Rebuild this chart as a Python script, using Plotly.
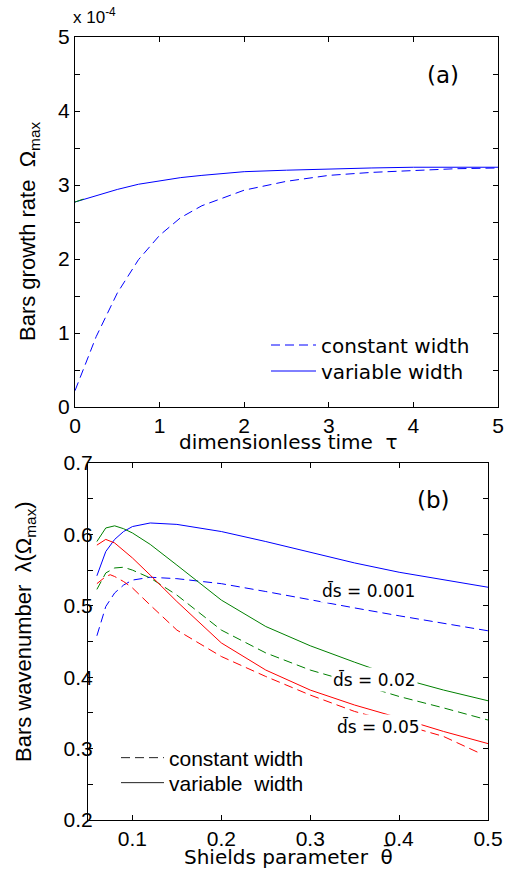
import plotly.graph_objects as go

# ---------- panel (a) data (growth rate, units of 1e-4) ----------
tau = [0, 0.25, 0.5, 0.75, 1.0, 1.25, 1.5, 2.0, 2.5, 3.0, 3.5, 4.0, 4.5, 5.0]
omega_const = [0.22, 0.95, 1.54, 1.99, 2.32, 2.56, 2.72, 2.93, 3.05, 3.13, 3.17, 3.20, 3.22, 3.23]
omega_var = [2.77, 2.86, 2.94, 3.01, 3.06, 3.10, 3.13, 3.18, 3.20, 3.22, 3.23, 3.24, 3.24, 3.24]
tau_green = [0, 0.1]
omega_green = [2.77, 2.81]

# ---------- panel (b) data (wavenumber vs Shields parameter) ----------
theta = [0.06, 0.07, 0.08, 0.09, 0.10, 0.12, 0.15, 0.20, 0.25, 0.30, 0.35, 0.40, 0.45, 0.50]
lam_var_001 = [0.542, 0.576, 0.593, 0.604, 0.611, 0.616, 0.614, 0.604, 0.590, 0.575, 0.560, 0.547, 0.536, 0.526]
lam_const_001 = [0.458, 0.499, 0.518, 0.529, 0.536, 0.540, 0.538, 0.531, 0.520, 0.508, 0.497, 0.486, 0.476, 0.465]
lam_var_002 = [0.590, 0.609, 0.612, 0.608, 0.602, 0.586, 0.557, 0.508, 0.471, 0.444, 0.421, 0.399, 0.382, 0.367]
lam_const_002 = [0.523, 0.546, 0.553, 0.554, 0.550, 0.539, 0.515, 0.466, 0.434, 0.410, 0.392, 0.373, 0.357, 0.340]
lam_var_005 = [0.585, 0.593, 0.588, 0.578, 0.567, 0.543, 0.506, 0.448, 0.410, 0.382, 0.361, 0.343, 0.324, 0.307]
theta_c005 = [0.06, 0.07, 0.075, 0.08, 0.09, 0.10, 0.12, 0.15, 0.20, 0.25, 0.30, 0.35, 0.40, 0.45, 0.49]
lam_const_005 = [0.531, 0.541, 0.5435, 0.541, 0.534, 0.525, 0.501, 0.466, 0.429, 0.401, 0.375, 0.352, 0.335, 0.317, 0.294]

ds_labels = ["d\u0304s = 0.001", "d\u0304s = 0.02", "d\u0304s = 0.05"]
ds_label_x = [0.366, 0.372, 0.377]
ds_label_y = [0.522, 0.397, 0.331]

W, H = 511, 869
BLUE, GREEN, RED = "#0000ff", "#008000", "#ff0000"
DASH = "9px,5px"
LEGC = "#222222"

fig = go.Figure()

# panel (a)
fig.add_trace(go.Scatter(x=tau, y=omega_const, mode="lines", name="constant width",
                         line=dict(color=BLUE, width=1, dash=DASH), xaxis="x", yaxis="y", legend="legend"))
fig.add_trace(go.Scatter(x=tau, y=omega_var, mode="lines", name="variable width",
                         line=dict(color=BLUE, width=1), xaxis="x", yaxis="y", legend="legend2"))
fig.add_trace(go.Scatter(x=tau_green, y=omega_green, mode="lines", showlegend=False,
                         line=dict(color=GREEN, width=1), xaxis="x", yaxis="y"))

# panel (b)
for xs, ys, col, dash in [
    (theta, lam_var_001, BLUE, None), (theta, lam_const_001, BLUE, DASH),
    (theta, lam_var_002, GREEN, None), (theta, lam_const_002, GREEN, DASH),
    (theta, lam_var_005, RED, None), (theta_c005, lam_const_005, RED, DASH),
]:
    fig.add_trace(go.Scatter(x=xs, y=ys, mode="lines", showlegend=False,
                             line=dict(color=col, width=1, dash=dash), xaxis="x2", yaxis="y2"))

# legend entries for panel (b) (line style key)
fig.add_trace(go.Scatter(x=[None], y=[None], mode="lines", name="constant width",
                         line=dict(color=LEGC, width=1, dash=DASH), xaxis="x2", yaxis="y2", legend="legend3"))
fig.add_trace(go.Scatter(x=[None], y=[None], mode="lines", name="variable  width",
                         line=dict(color=LEGC, width=1), xaxis="x2", yaxis="y2", legend="legend4"))

TICKF = dict(family="Liberation Sans, Arial, sans-serif", size=21, color="black")
axis_common = dict(showline=True, linewidth=1, linecolor="black", mirror="ticks", ticks="inside",
                   ticklen=5, tickcolor="black", showgrid=False, zeroline=False, tickfont=TICKF,
                   automargin=False)

DV = "DejaVu Sans"
LS = "Liberation Sans, Arial"


def leg(xpx, ypx, family, size, iw):
    return dict(x=xpx / W, y=1 - ypx / H, xanchor="left", yanchor="middle", bgcolor="rgba(0,0,0,0)",
                font=dict(family=family, size=size, color="black"), itemwidth=iw, borderwidth=0)


fig.update_layout(
    template="none",
    width=W, height=H, margin=dict(l=0, r=0, t=0, b=0, pad=0),
    paper_bgcolor="white", plot_bgcolor="white",
    xaxis=dict(domain=[75 / W, 498 / W], range=[0, 5], tickvals=[0, 1, 2, 3, 4, 5], anchor="y", **axis_common),
    yaxis=dict(domain=[1 - 407 / H, 1 - 37 / H], range=[0, 5], tickvals=[0, 1, 2, 3, 4, 5], anchor="x",
               minor=dict(dtick=0.5, ticks="inside", ticklen=5, tickcolor="black"), **axis_common),
    xaxis2=dict(domain=[88 / W, 488 / W], range=[0.05, 0.5], tickvals=[0.1, 0.2, 0.3, 0.4, 0.5],
                ticktext=["0.1", "0.2", "0.3", "0.4", "0.5"], anchor="y2", **axis_common),
    yaxis2=dict(domain=[1 - 820 / H, 1 - 463 / H], range=[0.2, 0.7], tickvals=[0.2, 0.3, 0.4, 0.5, 0.6, 0.7],
                ticktext=["0.2", "0.3", "0.4", "0.5", "0.6", "0.7"], anchor="x2", ticklabelstandoff=-10,
                minor=dict(dtick=0.05, ticks="inside", ticklen=5, tickcolor="black"), **axis_common),
    legend=leg(266, 345, DV, 20, 45),
    legend2=leg(266, 371, DV, 20, 45),
    legend3=leg(116, 758, LS, 21, 43),
    legend4=leg(116, 783, LS, 21, 43),
    showlegend=True,
)

ann = []


def add(text, x, y, font, size, xref="paper", yref="paper", angle=0, xanchor="center", **kw):
    ann.append(dict(text=text, x=x, y=y, xref=xref, yref=yref, showarrow=False, textangle=angle,
                    xanchor=xanchor, yanchor="middle", font=dict(family=font, size=size, color="black"), **kw))


add("(a)", 443 / W, 1 - 75 / H, DV, 23)
add("(b)", 433 / W, 1 - 500 / H, DV, 23)
add("x 10<sup>-4</sup>", 71 / W, 1 - 16 / H, LS, 17, xanchor="left")
add("dimensionless time  \u03c4", 288 / W, 1 - 442 / H, DV, 20)
add("Shields parameter  \u03b8\u0304", 288 / W, 1 - 856 / H, DV, 20)
add("Bars growth rate  \u03a9<sub>max</sub>", 29 / W, 1 - 232 / H, LS, 22, angle=-90)
add("Bars wavenumber  \u03bb(\u03a9<sub>max</sub>)", 25 / W, 1 - 632 / H, LS, 22, angle=-90)
for t, xx, yy in zip(ds_labels, ds_label_x, ds_label_y):
    add(t, xx, yy, DV, 17, xref="x2", yref="y2", bgcolor="white", borderpad=1)
fig.update_layout(annotations=ann)

fig.write_html("out.html", config={"displayModeBar": False},
               post_script="document.body.style.margin='0px';document.body.style.overflow='hidden';")
